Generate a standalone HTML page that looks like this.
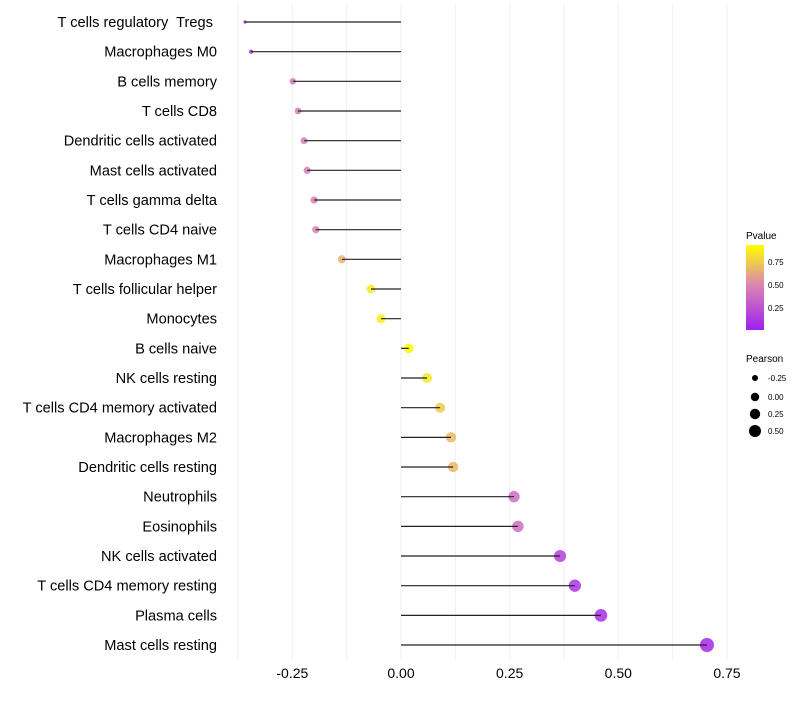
<!DOCTYPE html>
<html><head><meta charset="utf-8"><style>
body{margin:0;background:#fff;font-family:"Liberation Sans",sans-serif;}
</style></head><body>
<svg id="chart" width="800" height="700" xmlns="http://www.w3.org/2000/svg" font-family="Liberation Sans, sans-serif">
<defs><linearGradient id="pg" x1="0" y1="1" x2="0" y2="0">
<stop offset="0" stop-color="#A020F0"/><stop offset="0.54" stop-color="#DB88B0"/><stop offset="1" stop-color="#FFFF00"/></linearGradient></defs>
<g id="grid"></g>
<g id="marks"></g>
<g id="ylabels"></g>
<g id="xlabels"></g>
<g>
<text x="746" y="239" font-size="10">Pvalue</text>
<rect x="746" y="245" width="18" height="85" fill="url(#pg)"/>
<text x="768" y="265" font-size="8">0.75</text>
<text x="768" y="288" font-size="8">0.50</text>
<text x="768" y="311" font-size="8">0.25</text>
</g>
<g>
<text x="746" y="362" font-size="10">Pearson</text>
<circle cx="755" cy="378" r="3" fill="#000"/><text x="768" y="381" font-size="8">-0.25</text>
<circle cx="755" cy="397" r="4.2" fill="#000"/><text x="768" y="400" font-size="8">0.00</text>
<circle cx="755" cy="414" r="5.2" fill="#000"/><text x="768" y="417" font-size="8">0.25</text>
<circle cx="755" cy="431" r="6" fill="#000"/><text x="768" y="434" font-size="8">0.50</text>
</g>
</svg>
<script>
const categories=["T cells regulatory  Tregs ","Macrophages M0","B cells memory","T cells CD8","Dendritic cells activated","Mast cells activated","T cells gamma delta","T cells CD4 naive","Macrophages M1","T cells follicular helper","Monocytes","B cells naive","NK cells resting","T cells CD4 memory activated","Macrophages M2","Dendritic cells resting","Neutrophils","Eosinophils","NK cells activated","T cells CD4 memory resting","Plasma cells","Mast cells resting"];
const pearson=[-0.359,-0.345,-0.249,-0.237,-0.223,-0.216,-0.2,-0.196,-0.136,-0.069,-0.046,0.018,0.06,0.09,0.115,0.12,0.26,0.269,0.366,0.4,0.46,0.704];
const pvalue=[0.05,0.1,0.45,0.45,0.45,0.45,0.47,0.47,0.65,0.85,0.88,0.93,0.84,0.74,0.68,0.68,0.38,0.38,0.15,0.1,0.07,0.03];
const xTicks=[-0.25,0,0.25,0.5,0.75];
const tickLabels=["-0.25","0.00","0.25","0.50","0.75"];
const NS="http://www.w3.org/2000/svg";
const x=v=>401+v*434.6;
const y=i=>22+i*29.667;
const r=v=>1.5+5.5*Math.sqrt(Math.max((v+0.36)/1.06,0));
function lerp(a,b,t){return a.map((c,k)=>Math.round(c+(b[k]-c)*t));}
function color(p){const A=[160,32,240],B=[219,136,176],C=[255,255,0];const t=Math.min(p/0.93,1);
 const c=t<0.54?lerp(A,B,t/0.54):lerp(B,C,(t-0.54)/0.46);return `rgb(${c.join(',')})`;}
function mk(tag,attrs,parent){const e=document.createElementNS(NS,tag);for(const k in attrs)e.setAttribute(k,attrs[k]);parent.appendChild(e);return e;}
const grid=document.getElementById('grid'),marks=document.getElementById('marks'),yl=document.getElementById('ylabels'),xl=document.getElementById('xlabels');
for(let v=-0.375;v<=0.8;v+=0.125){const g=mk('line',{x1:x(v),x2:x(v),y1:5,y2:660,stroke:'#efefef','stroke-width':1},grid);

}
xTicks.forEach((t,i)=>{const e=mk('text',{x:x(t),y:678,'font-size':14,'text-anchor':'middle',fill:'#000'},xl);e.textContent=tickLabels[i];

});
categories.forEach((c,i)=>{
 const t=mk('text',{x:217,y:y(i)+5,'font-size':14.6,'text-anchor':'end',fill:'#000'},yl);t.textContent=c;
 t.style.whiteSpace='pre';
 
 
 const d=mk('circle',{cx:x(pearson[i]),cy:y(i),r:r(pearson[i]),fill:color(pvalue[i]),'fill-opacity':0.85},marks);
 
 
 const l=mk('line',{x1:x(0),x2:x(pearson[i]),y1:y(i),y2:y(i),stroke:'#222','stroke-width':1.2},marks);
 
 
});
</script>
</body></html>
